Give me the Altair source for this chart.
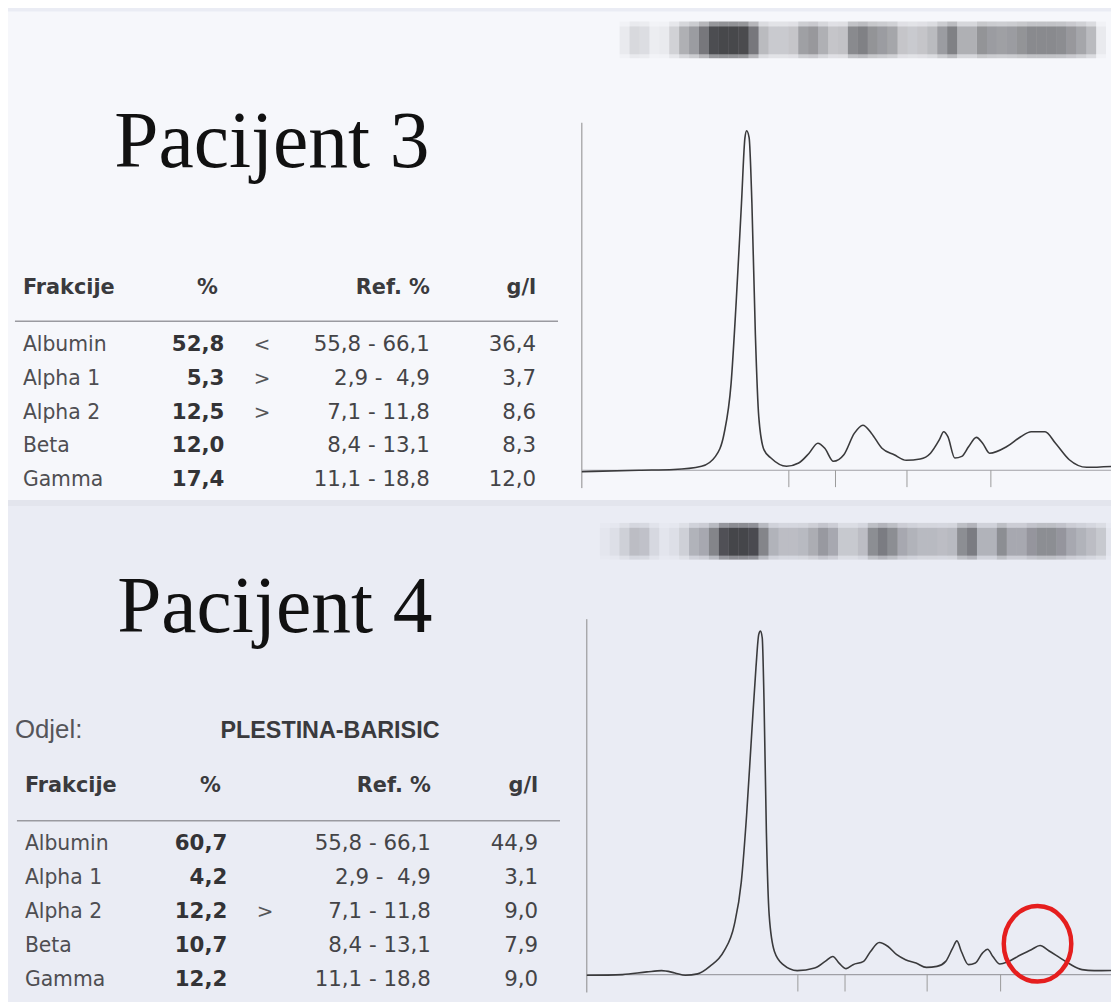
import altair as alt
import pandas as pd

# ---------------- data ----------------
fractions = ["Albumin", "Alpha 1", "Alpha 2", "Beta", "Gamma"]
ref_ranges = ["55,8 - 66,1", "2,9 -\u00a0 4,9", "7,1 - 11,8", "8,4 - 13,1", "11,1 - 18,8"]

pct_p3 = ["52,8", "5,3", "12,5", "12,0", "17,4"]
flag_p3 = ["<", ">", ">", "", ""]
gl_p3 = ["36,4", "3,7", "8,6", "8,3", "12,0"]

pct_p4 = ["60,7", "4,2", "12,2", "10,7", "12,2"]
flag_p4 = ["", "", ">", "", ""]
gl_p4 = ["44,9", "3,1", "9,0", "7,9", "9,0"]

# densitometry curve, patient 3 (position along strip, intensity)
curve3_pos = [0, 57.7, 92.6, 120.6, 134.6, 143.3, 150.3, 155.5, 160.8, 164.3,
              166, 168.5, 171.3, 174.8, 178.2, 183.5, 190.5, 206.2, 218.4, 228.9,
              237.7, 244.7, 253.4, 263.9, 274.4, 283.1, 291.8, 302.3, 314.6, 326.8,
              340.8, 351.2, 360, 364.5, 368.7, 375.7, 382.7, 389.7, 397.4, 403.7,
              410.7, 428.1, 442.1, 452.6, 466.6, 477.1, 491, 508.5, 535.8]
curve3_val = [-1.5, 0, 0.7, 4, 14, 37, 87, 170, 269, 335,
              342, 335, 269, 136.5, 54, 20.5, 12.3, 4, 7.3, 17.2,
              27.2, 22.2, 9, 15.6, 37.1, 45.4, 37.1, 22.2, 15.6, 10,
              11.3, 17.2, 30.5, 38.8, 33.8, 12.3, 14, 23.9, 33.1, 27.2,
              17.2, 23.9, 33.8, 38.8, 38.8, 27.2, 10.6, 3, 4]
ticks3 = [208.5, 255.5, 327.5, 412]

# densitometry curve, patient 4
curve4_pos = [0, 35.9, 60.5, 75.3, 88.7, 99.3, 111.6, 123.9, 138, 148.5,
              155.6, 160.9, 166.1, 170.4, 173.2, 174.9, 176.7, 178.5, 180.9, 183.7,
              189, 197.8, 211.9, 229.5, 240.1, 247.8, 254.1, 261.2, 268.2, 278.8,
              285.8, 294.6, 303.4, 312.2, 321, 331.6, 342.1, 352.7, 361.5, 368.5,
              372.8, 377.3, 384.4, 391.4, 398.5, 403.7, 409, 416.1, 424.9, 437.2,
              447.7, 456.5, 465.3, 475.9, 486.5, 498.8, 511.1, 535]
curve4_val = [-0.7, 0, 2.7, 4, 1.7, -0.7, 0.7, 8.3, 23.3, 49.9,
              93.1, 159.7, 242.9, 309.4, 342.7, 346, 339.3, 276.1, 143, 59.9,
              23.3, 10, 4, 6.6, 13.3, 18.3, 11.6, 6, 10, 13.3,
              23.3, 32.3, 28.3, 20, 15, 11.6, 7.3, 8.3, 13.3, 26.6,
              34, 23.3, 10, 11.6, 21.6, 25.6, 18.3, 10.6, 13.3, 20,
              25, 29.3, 24, 17.3, 10.6, 5, 4, 4.3]
ticks4 = [212.6, 260.1, 342.8, 416.8]

# marked (circled) region on patient 4 curve
circle_pos = [454]
circle_val = [31]

# gel strip densities (slices of 10 units)
gel3_pos = list(range(38, 519, 10))
gel3_d = [0.05, 0.12, 0.1, 0.04, 0.05, 0.15, 0.3, 0.4, 0.6, 0.9,
          0.95, 0.95, 0.92, 0.6, 0.25, 0.18, 0.18, 0.2, 0.38, 0.42,
          0.3, 0.2, 0.22, 0.5, 0.55, 0.45, 0.4, 0.35, 0.2, 0.18,
          0.2, 0.25, 0.4, 0.55, 0.3, 0.3, 0.45, 0.4, 0.38, 0.4,
          0.45, 0.5, 0.5, 0.5, 0.48, 0.42, 0.35, 0.25, 0.05]
gel4_pos = list(range(13, 524, 10))
gel4_d = [0.02, 0.05, 0.12, 0.2, 0.18, 0.08, 0.03, 0.05, 0.12, 0.25,
          0.3, 0.5, 0.85, 0.95, 0.95, 0.9, 0.5, 0.25, 0.2, 0.2,
          0.22, 0.28, 0.38, 0.3, 0.15, 0.15, 0.2, 0.45, 0.55, 0.45,
          0.3, 0.25, 0.22, 0.22, 0.2, 0.22, 0.45, 0.55, 0.25, 0.25,
          0.45, 0.3, 0.3, 0.4, 0.45, 0.45, 0.4, 0.3, 0.25, 0.2,
          0.15, 0.03]

# ---------------- helpers ----------------
W, H = 1111, 994
ONE = alt.Data(values=[{}])
TFONT = "DejaVu Sans"


def vrect(x1, x2, y1, y2, color):
    return alt.Chart(ONE).mark_rect(color=color).encode(
        x=alt.value(x1), x2=alt.value(x2), y=alt.value(y1), y2=alt.value(y2))


def vtext(txt, x, y, size, align="left", weight="normal", color="#333333",
          font=TFONT, baseline="middle"):
    return alt.Chart(ONE).mark_text(
        text=txt, align=align, baseline=baseline, fontSize=size,
        fontWeight=weight, color=color, font=font
    ).encode(x=alt.value(x), y=alt.value(y))


def panel(pos, val, ticks, gel_pos, gel_d, xdom, xrange, ydom, yrange,
          gel_y, axis_top, circle=None):
    xs = alt.Scale(domain=xdom, range=xrange, nice=False, zero=False)
    ys = alt.Scale(domain=ydom, range=yrange, nice=False, zero=False)
    gel_df = pd.DataFrame({"pos": gel_pos, "end": [p + 10 for p in gel_pos], "d": gel_d})
    # soft outer band
    gel_outer = alt.Chart(gel_df).mark_rect().encode(
        x=alt.X("pos:Q", scale=xs, axis=None), x2="end:Q",
        y=alt.value(gel_y[0]), y2=alt.value(gel_y[1]),
        opacity=alt.Opacity("d:Q", scale=alt.Scale(domain=[0, 1], range=[0, 0.5]), legend=None),
        color=alt.value("#222226"))
    # denser core of the band
    gel_inner = alt.Chart(gel_df).mark_rect().encode(
        x=alt.X("pos:Q", scale=xs, axis=None), x2="end:Q",
        y=alt.value(gel_y[0] + 5), y2=alt.value(gel_y[1] - 4),
        fillOpacity=alt.FillOpacity("d:Q", scale=alt.Scale(domain=[0, 1], range=[0, 0.7]), legend=None),
        color=alt.value("#222226"))
    axis = alt.Chart(ONE).mark_rule(color="#8a8a8a", strokeWidth=1).encode(
        x=alt.X(datum=0, scale=xs, axis=None),
        y=alt.Y(datum=-18, scale=ys, axis=None), y2=alt.datum(axis_top))
    base = alt.Chart(ONE).mark_rule(color="#a0a0a6", strokeWidth=1.2).encode(
        x=alt.X(datum=0, scale=xs, axis=None), x2=alt.datum(xdom[1]),
        y=alt.Y(datum=0, scale=ys, axis=None))
    tk = alt.Chart(pd.DataFrame({"pos": ticks})).mark_rule(color="#9a9a9a", strokeWidth=1).encode(
        x=alt.X("pos:Q", scale=xs, axis=None),
        y=alt.Y(datum=0, scale=ys, axis=None), y2=alt.datum(-17))
    line = alt.Chart(pd.DataFrame({"pos": pos, "val": val})).mark_line(
        color="#3a3a3c", strokeWidth=1.6, interpolate="monotone").encode(
        x=alt.X("pos:Q", scale=xs, axis=None), y=alt.Y("val:Q", scale=ys, axis=None))
    layers = [gel_outer, gel_inner, axis, base, tk, line]
    if circle is not None:
        rx = 0.895
        k = 0.552
        path = (f"M0,-1 C{rx*k:.3f},-1 {rx},-{k} {rx},0 C{rx},{k} {rx*k:.3f},1 0,1 "
                f"C-{rx*k:.3f},1 -{rx},{k} -{rx},0 C-{rx},-{k} -{rx*k:.3f},-1 0,-1 Z")
        circ = alt.Chart(pd.DataFrame({"pos": circle[0], "val": circle[1]})).mark_point(
            shape=path, size=5776, filled=False, stroke="#e51e1e", strokeWidth=4.5, opacity=1
        ).encode(x=alt.X("pos:Q", scale=xs, axis=None), y=alt.Y("val:Q", scale=ys, axis=None))
        layers.append(circ)
    return alt.layer(*layers)


def table(pct, flag, gl, yr, xcols):
    df = pd.DataFrame({"frakcija": fractions, "pct": pct, "flag": flag,
                       "ref": ref_ranges, "gl": gl})
    ys = alt.Scale(type="point", domain=fractions, range=yr, padding=0)
    yenc = alt.Y("frakcija:N", scale=ys, axis=None, sort=None)
    base = alt.Chart(df)
    c_name = base.mark_text(align="left", baseline="middle", fontSize=20.5, font=TFONT,
                            color="#4e4e52").encode(x=alt.value(xcols[0]), y=yenc, text="frakcija:N")
    c_pct = base.mark_text(align="right", baseline="middle", fontSize=21.5, font=TFONT,
                           fontWeight="bold", color="#333336").encode(x=alt.value(xcols[1]), y=yenc, text="pct:N")
    c_flag = base.mark_text(align="center", baseline="middle", fontSize=20, font=TFONT,
                            color="#555558").encode(x=alt.value(xcols[2]), y=yenc, text="flag:N")
    c_ref = base.mark_text(align="right", baseline="middle", fontSize=21.5, font=TFONT,
                           color="#444447").encode(x=alt.value(xcols[3]), y=yenc, text="ref:N")
    c_gl = base.mark_text(align="right", baseline="middle", fontSize=21.5, font=TFONT,
                          color="#444447").encode(x=alt.value(xcols[4]), y=yenc, text="gl:N")
    return alt.layer(c_name, c_pct, c_flag, c_ref, c_gl)


def header(y, xcols, line_y, line_x):
    hs = [
        vtext("Frakcije", xcols[0], y, 21, "left", "bold", "#3a3a3d"),
        vtext("%", xcols[1], y, 21, "center", "bold", "#3a3a3d"),
        vtext("Ref. %", xcols[2], y, 21, "right", "bold", "#3a3a3d"),
        vtext("g/l", xcols[3], y, 21, "right", "bold", "#3a3a3d"),
        alt.Chart(ONE).mark_rule(color="#9a9aa0", strokeWidth=1.5).encode(
            x=alt.value(line_x[0]), x2=alt.value(line_x[1]), y=alt.value(line_y)),
    ]
    return alt.layer(*hs)


# ---------------- build ----------------
backgrounds = alt.layer(
    vrect(0, W, 0, 495, "#f6f7fb"),
    vrect(0, W, 492, 498, "#e3e5ed"),
    vrect(0, W, 498, H, "#eaecf4"),
)

p3 = panel(curve3_pos, curve3_val, ticks3, gel3_pos, gel3_d,
           [0, 537], [578, 1115], [0, 342], [462, 120], (10, 47), 350)
p4 = panel(curve4_pos, curve4_val, ticks4, gel4_pos, gel4_d,
           [0, 532], [583, 1115], [0, 346], [970, 624], (515, 552), 358,
           circle=(circle_pos, circle_val))

t3 = table(pct_p3, flag_p3, gl_p3, [336, 472], [15, 218, 256, 425, 532])
t4 = table(pct_p4, flag_p4, gl_p4, [838, 975], [17, 221, 259, 426, 534])

h3 = header(278, [15, 201, 425, 532], 312, (7, 554))
h4 = header(780, [17, 204, 426, 534], 815, (9, 556))

titles = alt.layer(
    vtext("Pacijent 3", 107, 157, 80, "left", "normal", "#111111", "Liberation Serif", "alphabetic"),
    vtext("Pacijent 4", 110, 625, 80, "left", "normal", "#111111", "Liberation Serif", "alphabetic"),
    vtext("Odjel:", 7, 724, 26, "left", "normal", "#55555a", "Liberation Sans"),
    vtext("PLESTINA-BARISIC", 214, 725, 23.5, "left", "bold", "#3a3a3d", "Liberation Sans"),
)

chart = alt.layer(backgrounds, p3, p4, t3, t4, h3, h4, titles).resolve_scale(
    x="independent", y="independent", opacity="independent", fillOpacity="independent"
).properties(
    width=W, height=H, autosize="none", padding=0, background="#eaecf4"
).configure_view(stroke=None)

chart.save("out.html", embed_options={"renderer": "svg", "actions": False})
